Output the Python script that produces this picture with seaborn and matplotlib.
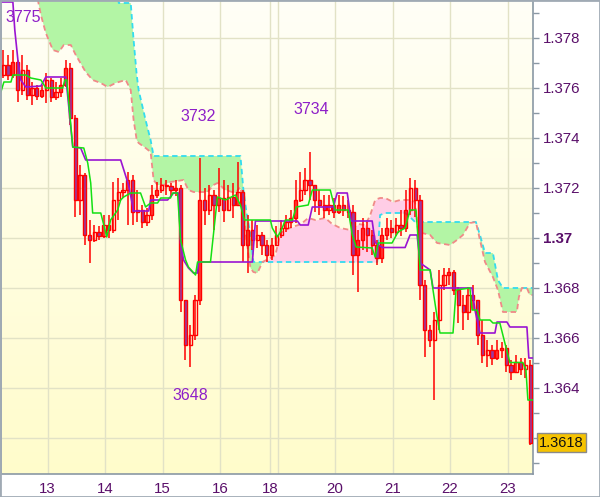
import numpy as np
import matplotlib
matplotlib.use("Agg")
import matplotlib.pyplot as plt
import matplotlib.transforms as mtransforms
from matplotlib.patches import Rectangle
import seaborn as sns

sns.set_style("white")
plt.rcParams['font.family'] = ['Liberation Sans', 'DejaVu Sans']

# ---------------- data ----------------
# 2-hour bars, time in hours from chart start
first_open = 1.3765
closes = [
    1.3769, 1.3765, 1.37702, 1.3759, 1.3767, 1.3757, 1.37598, 1.37566, 1.3759, 1.3763,
    1.37562, 1.37582, 1.3761, 1.37678, 1.37478, 1.3715, 1.3725, 1.3701, 1.3699, 1.37022,
    1.37006, 1.3705, 1.3703, 1.3715, 1.37182, 1.3719, 1.3723, 1.37102, 1.3711, 1.37062,
    1.3709, 1.3717, 1.3719, 1.3721, 1.37206, 1.3719, 1.37198, 1.3675, 1.3657, 1.3661,
    1.3675, 1.3715, 1.3711, 1.3717, 1.3713, 1.37158, 1.3711, 1.37162, 1.3713, 1.37182,
    1.3697, 1.3703, 1.3699, 1.3701, 1.3697, 1.3693, 1.3697, 1.3701, 1.37038, 1.37062,
    1.37078, 1.3715, 1.3719, 1.3723, 1.3721, 1.3715, 1.3713, 1.3711, 1.3713, 1.37102,
    1.3713, 1.3711, 1.37102, 1.3693, 1.3699, 1.37038, 1.3701, 1.3697, 1.36918, 1.3701,
    1.37038, 1.37022, 1.3705, 1.37038, 1.3711, 1.37198, 1.3715, 1.3681, 1.3663, 1.3659,
    1.3667, 1.3681, 1.3685, 1.36862, 1.3679, 1.3673, 1.36702, 1.3677, 1.3675, 1.3661,
    1.3653, 1.3655, 1.36518, 1.3655, 1.36558, 1.3649, 1.36462, 1.36502, 1.36474, 1.3649,
    1.3618]
highs = [
    1.3775, 1.3773, 1.3775, 1.3771, 1.3773, 1.3769, 1.37622, 1.3761, 1.3761, 1.37658,
    1.3764, 1.37622, 1.37638, 1.3771, 1.37698, 1.3749, 1.3729, 1.3726, 1.3707, 1.3705,
    1.37046, 1.3709, 1.3709, 1.37222, 1.37238, 1.37218, 1.37262, 1.3725, 1.3719, 1.3713,
    1.37118, 1.3721, 1.37222, 1.37238, 1.3723, 1.37218, 1.3723, 1.3721, 1.3675, 1.3665,
    1.3677, 1.37318, 1.37198, 1.3721, 1.3719, 1.37278, 1.3723, 1.3721, 1.37218, 1.37302,
    1.3719, 1.3709, 1.3707, 1.3705, 1.37022, 1.3699, 1.36998, 1.37046, 1.3707, 1.3709,
    1.3711, 1.3723, 1.37262, 1.37278, 1.37342, 1.3721, 1.3719, 1.3717, 1.3717, 1.37158,
    1.3717, 1.37166, 1.3715, 1.3713, 1.3703, 1.37078, 1.37062, 1.3703, 1.3699, 1.37038,
    1.37078, 1.3707, 1.37078, 1.3711, 1.3719, 1.37238, 1.3723, 1.3717, 1.3683, 1.3665,
    1.36702, 1.3687, 1.36878, 1.36878, 1.3687, 1.36802, 1.3677, 1.36802, 1.3681, 1.3675,
    1.3667, 1.3659, 1.3657, 1.3659, 1.36582, 1.3657, 1.3651, 1.3653, 1.36518, 1.36518,
    1.3651]
lows = [
    1.37638, 1.3763, 1.37638, 1.37542, 1.3757, 1.3755, 1.3753, 1.3755, 1.37558, 1.37538,
    1.37542, 1.3755, 1.37562, 1.37602, 1.3745, 1.37082, 1.3709, 1.3697, 1.36898, 1.36982,
    1.3699, 1.36998, 1.36998, 1.3702, 1.3707, 1.37158, 1.3705, 1.3705, 1.37062, 1.37038,
    1.37046, 1.3707, 1.37158, 1.37178, 1.3717, 1.37166, 1.37166, 1.36702, 1.3651, 1.36482,
    1.3659, 1.3673, 1.3705, 1.3709, 1.3703, 1.37102, 1.37062, 1.3711, 1.37078, 1.3713,
    1.36902, 1.36858, 1.3695, 1.36958, 1.3693, 1.36902, 1.3691, 1.3697, 1.36998, 1.37022,
    1.37038, 1.3706, 1.37142, 1.3717, 1.3715, 1.37102, 1.3709, 1.37078, 1.3709, 1.37078,
    1.37094, 1.37086, 1.37078, 1.3685, 1.36782, 1.3695, 1.36942, 1.3693, 1.3689, 1.3690,
    1.3699, 1.36998, 1.37006, 1.37006, 1.37022, 1.3709, 1.37082, 1.3675, 1.36522, 1.36562,
    1.3635, 1.3663, 1.3679, 1.3681, 1.3677, 1.36658, 1.3663, 1.3667, 1.3671, 1.3657,
    1.36498, 1.36482, 1.3649, 1.3651, 1.36518, 1.36462, 1.3643, 1.36458, 1.3645, 1.36438,
    1.3617]
bar_hours = 2

kijun_t = [0, 5, 5.8, 7.1, 8.3, 10.4, 16.7, 18.75, 27.1, 30, 33.3, 35.4, 50, 53.3, 55.4,
           61.7, 62.5, 69.6, 72.1, 74.2, 75, 76.25, 78.3, 80.4, 82.1, 82.5, 105, 106.25,
           123.75, 125, 128.3, 130, 138.75, 140.4, 144.6, 146.25, 155, 156.25, 159.2,
           168.75, 170.8, 173.75, 175, 179.2, 180.4, 196.7, 197.9, 200, 206.25, 207.1,
           211.25, 212.5, 219.6, 220.4, 222]
kijun_v = [1.37942, 1.37942, 1.3783, 1.3771, 1.3763, 1.37602, 1.37606, 1.37642, 1.37642,
           1.37362, 1.37358, 1.3731, 1.3731, 1.3721, 1.37106, 1.37106, 1.3715, 1.3715,
           1.37178, 1.37178, 1.36978, 1.3691, 1.36878, 1.36858, 1.36858, 1.36902, 1.36902,
           1.37066, 1.37066, 1.3705, 1.3705, 1.37122, 1.37122, 1.37178, 1.37178, 1.37066,
           1.37066, 1.3698, 1.3696, 1.3696, 1.3701, 1.3701, 1.36898, 1.3687, 1.36798,
           1.36798, 1.3671, 1.36618, 1.36618, 1.36662, 1.36662, 1.36642, 1.36642, 1.36518,
           1.36518]

tenkan_t = [0, 1.25, 4.2, 5, 10.4, 12.5, 16.7, 18.75, 25.8, 26.7, 27.5, 30, 34.6, 36.25,
            37.5, 38.3, 41.7, 44.2, 45.8, 48.75, 50, 51.25, 54.2, 58.3, 60.4, 62.5, 65.4,
            66.7, 70.8, 71.7, 73.75, 75, 77.1, 78.3, 81.25, 82.1, 87.5, 90.4, 93.75, 97.9,
            100, 101.7, 112.5, 113.3, 115.4, 117.1, 118.75, 121.7, 123.3, 128.3, 130,
            137.5, 139.6, 145, 146.7, 148.3, 155, 156.25, 157.5, 163.3, 165.8, 168.75,
            170.8, 173.3, 174.2, 175, 179.2, 180.4, 182.1, 183.3, 188.75, 190, 195.8,
            196.7, 198.75, 200, 204.2, 205.4, 208.3, 210.4, 212.5, 217.9, 219.2, 220, 222]
tenkan_v = [1.37582, 1.37622, 1.37622, 1.3765, 1.3765, 1.37638, 1.3763, 1.37598, 1.37598,
            1.3763, 1.3763, 1.37362, 1.37358, 1.37298, 1.37218, 1.37098, 1.37098, 1.37002,
            1.3707, 1.3711, 1.3715, 1.37162, 1.37178, 1.37178, 1.37122, 1.37138, 1.37138,
            1.37158, 1.37158, 1.37178, 1.37178, 1.3699, 1.3691, 1.36882, 1.3685, 1.36902,
            1.36902, 1.37162, 1.3715, 1.3717, 1.3713, 1.3707, 1.3707, 1.37038, 1.37002,
            1.3703, 1.3707, 1.3707, 1.37122, 1.3713, 1.3719, 1.3719, 1.3711, 1.3711,
            1.3701, 1.36962, 1.36958, 1.36922, 1.36978, 1.36978, 1.37022, 1.37038, 1.3711,
            1.3711, 1.3699, 1.3687, 1.3687, 1.3679, 1.36682, 1.36618, 1.36618, 1.3679,
            1.36798, 1.3671, 1.3671, 1.3667, 1.3667, 1.36658, 1.36658, 1.36578, 1.365,
            1.365, 1.3647, 1.3635, 1.3635]

cloud_t = [15, 16.7, 18.75, 21.7, 24.2, 26.25, 29.2, 31.25, 35.4, 38.3, 41.7, 44.6, 47.9,
           49.2, 52.1, 54.2, 55.4, 56.7, 57.5, 60.4, 62.5, 63.75, 65.4, 67.9, 70.8, 76.25,
           78.3, 80.4, 86.25, 88.75, 90.4, 93.75, 97.9, 100, 101.25, 102.5, 104.2, 105.4,
           107.1, 109.2, 112.5, 114.6, 116.7, 118.75, 121.7, 124.2, 125.8, 128.3, 131.25,
           135.4, 138.3, 141.7, 145.8, 149.2, 152.1, 154.2, 156.25, 157.1, 158.3, 160.4,
           163.75, 166.7, 168.75, 170.8, 172.9, 174.2, 179.2, 182.1, 187.5, 190.4, 192.9,
           195.8, 198.3, 200, 202.1, 205.4, 207.5, 209.6, 215.4, 216.25, 217.5, 219.6,
           220.8, 222.1]
span_a = ([1.3807] * 13 + [1.37938] * 3 +
          [1.3779, 1.3765, 1.3759, 1.3747, 1.3739, 1.37326] + [1.37326] * 12 +
          [1.3719, 1.37102, 1.3701, 1.36902] + [1.36902] * 20 + [1.3709] +
          [1.37098] * 4 + [1.37082, 1.37062] + [1.37062] * 8 +
          [1.3701, 1.36938, 1.36938, 1.3683] + [1.36798] * 7)
span_b = [1.3797, 1.3789, 1.37818, 1.3775, 1.37742, 1.3777, 1.3777, 1.3773, 1.37662, 1.3763,
          1.37618, 1.37602, 1.37618, 1.37622, 1.3763, 1.3759, 1.3747, 1.3739, 1.37378, 1.37358,
          1.37342, 1.3723, 1.3721, 1.3721, 1.37222, 1.3723, 1.3719, 1.37182, 1.37182, 1.3721,
          1.37218, 1.3719, 1.37178, 1.37202, 1.3713, 1.3699, 1.36878, 1.36862, 1.36858, 1.36902,
          1.36918, 1.3693, 1.37018, 1.3703, 1.37042, 1.3705, 1.37058, 1.37078, 1.3707, 1.37078,
          1.37054, 1.37038, 1.3703, 1.37054, 1.3705, 1.3709, 1.3715, 1.37154, 1.37158, 1.37158,
          1.37142, 1.3715, 1.3715, 1.3715, 1.37142, 1.37022, 1.3701, 1.36978, 1.3697, 1.3699,
          1.3701, 1.37058, 1.37062, 1.3699, 1.36902, 1.36842, 1.3679, 1.36702, 1.36702, 1.36762,
          1.36798, 1.36798, 1.3677, 1.3677]

day_labels = ['13', '14', '15', '16', '18', '', '20', '21', '22', '23']
day_start = [19.5, 43.5, 67.5, 91.5, 112.5, 115.5, 139.5, 163.5, 187.5, 211.5]

ytick_vals = [1.362, 1.364, 1.366, 1.368, 1.370, 1.372, 1.374, 1.376, 1.378]
# the 1.362 label sits under the last-price box in the reference
ytick_labels = ['', '1.364', '1.366', '1.368', '1.37', '1.372', '1.374', '1.376', '1.378']
yminor_vals = [1.361, 1.363, 1.365, 1.367, 1.369, 1.371, 1.373, 1.375, 1.377, 1.379]

notes = [('3775', 9.2, 1.37882), ('3732', 82.3, 1.37484), ('3734', 129.4, 1.37514),
         ('3648', 79.2, 1.36366)]
last_price = 1.3618

# ---------------- figure ----------------
fig = plt.figure(figsize=(6.0, 4.97), dpi=100)
ax = fig.add_axes([0.0015, 23 / 497, 532 / 600, 474 / 497])

grad = np.linspace(0, 1, 256)[:, None, None]
top_c = np.array([255, 255, 247]) / 255
bot_c = np.array([255, 252, 203]) / 255
img = top_c + (bot_c - top_c) * grad
ax.imshow(img, extent=[0, 1, 0, 1], transform=ax.transAxes, aspect='auto',
          zorder=-10, origin='upper')

ca = np.array(span_a)
cb = np.array(span_b)
ax.fill_between(cloud_t, ca, cb, where=ca >= cb, interpolate=True,
                color='#b3f5a5', lw=0, zorder=1)
ax.fill_between(cloud_t, ca, cb, where=ca < cb, interpolate=True,
                color='#ffcde6', lw=0, zorder=1)
sns.lineplot(x=cloud_t, y=span_a, color='#33dcef', lw=1.3, linestyle=(0, (3, 2)),
             ax=ax, zorder=2, sort=False, estimator=None)
sns.lineplot(x=cloud_t, y=span_b, color='#f08a88', lw=1.3, linestyle=(0, (3, 2)),
             ax=ax, zorder=2, sort=False, estimator=None)

c = np.array(closes)
o = np.array([first_open] + closes[:-1])
t = np.arange(len(closes)) * bar_hours + bar_hours / 2
ax.vlines(t, lows, highs, color='#ff0000', lw=1.1, zorder=3)
face = ['#9a3aa0' if cc < oo else (0, 0, 0, 0) for cc, oo in zip(c, o)]
ax.bar(t, np.abs(c - o), bottom=np.minimum(o, c), width=1.35, color=face,
       edgecolor='#ff0000', linewidth=1.0, zorder=3.5)

sns.lineplot(x=kijun_t, y=kijun_v, color='#9a14d2', lw=1.2, ax=ax, zorder=4,
             sort=False, estimator=None)
sns.lineplot(x=tenkan_t, y=tenkan_v, color='#14e014', lw=1.1, ax=ax, zorder=5,
             sort=False, estimator=None)

for txt, xx, yy in notes:
    ax.text(xx, yy, txt, color='#8e1fc8', fontsize=11.5, ha='center', va='center', zorder=6)

ax.set_xlim(0, 222.1)
ax.set_ylim(1.36054, 1.3795)
ax.set_xticks(day_start)
ax.set_xticklabels(day_labels)
ax.yaxis.tick_right()
ax.set_yticks(ytick_vals)
ax.set_yticklabels(ytick_labels)
ax.set_yticks(yminor_vals, minor=True)
ax.grid(True, which='major', color='#e2e2c6', lw=1.0)
ax.set_axisbelow(True)
ax.set_xlabel('')
ax.set_ylabel('')
ax.tick_params(axis='y', which='major', length=4, width=1, color='#8a98a4', pad=3,
               labelsize=10.8, labelcolor='#5a0f6a', right=True, left=False)
ax.tick_params(axis='y', which='minor', length=4, width=1, color='#8a98a4',
               right=True, left=False)
ax.tick_params(axis='x', length=0, pad=6, labelsize=10.8, labelcolor='#5a0f6a')
for lbl in ax.get_yticklabels():
    if lbl.get_text() == '1.37':
        lbl.set_fontweight('bold')
for s in ax.spines.values():
    s.set_color('#8a98a4')
    s.set_linewidth(1.2)

trans = mtransforms.blended_transform_factory(ax.transAxes, ax.transData)
ax.text(1.0117, last_price, f'{last_price:.4f}', transform=trans, ha='left', va='center',
        fontsize=10.5, color='#111111', zorder=10, clip_on=False,
        bbox=dict(boxstyle='square,pad=0.15', fc='#f6c300', ec='#8a8a8a', lw=1))

fig.add_artist(Rectangle((0, 0), 1, 1, transform=fig.transFigure, fill=False,
                         ec='#a0aab4', lw=2))

fig.savefig('out.png', dpi=100)
